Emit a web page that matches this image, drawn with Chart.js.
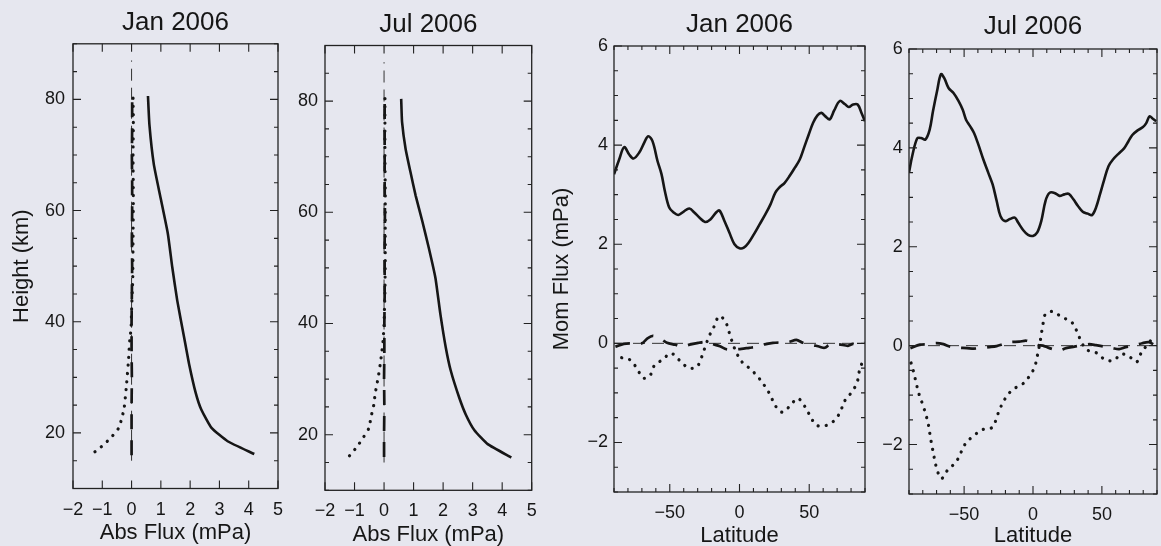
<!DOCTYPE html>
<html lang="en">
<head>
<meta charset="UTF-8">
<title>Gravity Wave Flux 2006</title>
<script src="https://cdn.jsdelivr.net/npm/chart.js"></script>
<style>
  html, body { margin: 0; padding: 0; background: #e6e7ef; }
  #wrap { position: relative; width: 1161px; height: 546px; overflow: hidden; }
  canvas { position: absolute; top: 0; }
</style>
</head>
<body>
<div id="wrap">
  <canvas id="p1" width="300" height="546" style="left:0px"></canvas>
  <canvas id="p2" width="270" height="546" style="left:290px"></canvas>
  <canvas id="p3" width="350" height="546" style="left:530px"></canvas>
  <canvas id="p4" width="291" height="546" style="left:870px"></canvas>
</div>
<script>
// ---- tick labels
const absTicks = [-2, -1, 0, 1, 2, 3, 4, 5];
const heightTicks = [20, 40, 60, 80];
const latTicks = [-50, 0, 50];
const momTicks = [-2, 0, 2, 4, 6];

// ---- Jan 2006, absolute flux profile (height km vs mPa)
const janAbsSolidH = [80.6, 75.4, 68.3, 62.3, 55.8, 49.8, 43.8, 37.3, 32.5, 27.2, 24.2, 20.9, 18.5, 16.2];
const janAbsSolid  = [0.56, 0.61, 0.76, 0.99, 1.24, 1.39, 1.56, 1.79, 1.96, 2.19, 2.38, 2.73, 3.28, 4.19];
const janAbsDotH = [16.6, 17.8, 19.3, 20.8, 22.5, 24.6, 28.8, 32.7, 36.8, 38.6, 42.0, 48, 55, 62, 70, 76, 80.5];
const janAbsDot  = [-1.25, -0.97, -0.68, -0.45, -0.34, -0.25, -0.17, -0.11, -0.06, -0.02, 0.0, 0.04, 0.05, 0.06, 0.05, 0.06, 0.05];
const janAbsDashH = [16, 20, 25, 30, 35, 40, 45, 50, 55, 60, 65, 70, 75, 80.5];
const janAbsDash  = [0.0, 0.0, 0.0, 0.01, 0.0, 0.0, 0.01, 0.02, 0.01, 0.02, 0.02, 0.01, 0.02, 0.02];

// ---- Jul 2006, absolute flux profile
const julAbsSolidH = [80.4, 76.2, 71.4, 67.1, 63.0, 58.3, 53.5, 48.2, 41.6, 35.7, 31.5, 26.6, 23.6, 20.8, 18.3, 15.9];
const julAbsSolid  = [0.58, 0.61, 0.73, 0.90, 1.07, 1.30, 1.52, 1.74, 1.91, 2.09, 2.26, 2.55, 2.77, 3.06, 3.51, 4.31];
const julAbsDotH = [16.2, 17.8, 19.6, 21.1, 23.2, 25.3, 27.4, 29.1, 30.9, 33.0, 35.1, 37.1, 40, 46, 52, 58, 64, 70, 76, 80.5];
const julAbsDot  = [-1.17, -0.92, -0.69, -0.52, -0.44, -0.35, -0.30, -0.24, -0.18, -0.12, -0.07, -0.03, 0.0, 0.03, 0.04, 0.04, 0.04, 0.03, 0.03, 0.03];
const julAbsDashH = [16, 20, 25, 30, 35, 40, 45, 50, 55, 60, 65, 70, 75, 80.5];
const julAbsDash  = [0.0, 0.0, 0.01, 0.0, 0.01, 0.01, 0.02, 0.02, 0.02, 0.03, 0.02, 0.02, 0.02, 0.02];

// ---- Jan 2006, momentum flux vs latitude
const janLatSolid = [-90, -86.3, -82.7, -79.1, -76, -71.9, -68.3, -65.5, -62.4, -58.8, -55.9, -53.5, -50.4, -47.2, -43.9, -40, -36, -32.4, -28.8, -24.7,
  -20.9, -16.8, -14.4, -10.8, -7.2, -3.6, 0, 3.1, 6.5, 10.3, 14.4, 18.5, 22.3, 25.7, 28.8, 32.4, 36, 39.6, 43.2, 46.3,
  49.6, 52.8, 55.9, 58.8, 61.6, 64.7, 67.9, 71.9, 75.5, 78.4, 81.5, 84.7, 87.5, 90];
const janMomSolid = [3.41, 3.71, 3.96, 3.81, 3.73, 3.85, 4.05, 4.18, 4.08, 3.68, 3.41, 3.07, 2.74, 2.64, 2.59, 2.66, 2.72, 2.64, 2.54, 2.45,
  2.50, 2.64, 2.68, 2.47, 2.23, 2.0, 1.92, 1.93, 2.03, 2.20, 2.40, 2.60, 2.81, 3.04, 3.15, 3.24, 3.38, 3.54, 3.71, 3.95,
  4.21, 4.45, 4.60, 4.65, 4.58, 4.52, 4.70, 4.89, 4.83, 4.77, 4.82, 4.82, 4.65, 4.48];
const janLatDot = [-84.5, -78.1, -73.3, -69, -64.2, -61.1, -54.7, -49.2, -42.7, -36.8, -30.8, -27.2, -24.6, -21.7, -18.2, -14.6, -10.3, -7.4, -5, -2.2,
  1.9, 7.9, 13.3, 18.1, 22.2, 25.5, 30.5, 36.3, 41.7, 47, 50.6, 55.1, 61.8, 69, 72.8, 75.9, 80.9, 84.5, 86.1, 88.5];
const janMomDot = [-0.29, -0.34, -0.52, -0.70, -0.65, -0.45, -0.32, -0.20, -0.35, -0.49, -0.48, -0.28, -0.07, 0.15, 0.34, 0.55, 0.45, 0.22, 0.01, -0.19,
  -0.38, -0.52, -0.68, -0.86, -1.05, -1.25, -1.39, -1.26, -1.11, -1.28, -1.46, -1.65, -1.66, -1.53, -1.34, -1.14, -0.97, -0.77, -0.54, -0.35];
const janLatDash = [-89, -83, -76, -70, -66, -62, -56, -52, -46, -41.5, -35, -29.6, -23.6, -20, -14, -9.3, -4, 1.4, 7, 13,
  18, 24, 30, 35.5, 40.8, 45.5, 52, 57.5, 61, 64.7, 71, 77.8, 81.4, 85.7, 89.7];
const janMomDash = [-0.07, -0.01, 0.0, 0.0, 0.1, 0.15, 0.08, 0.01, -0.03, -0.07, -0.02, 0.01, 0.03, -0.01, -0.06, -0.12, -0.12, -0.11, -0.09, -0.07,
  -0.02, 0.01, 0.02, 0.03, 0.07, 0.01, -0.03, -0.07, -0.09, -0.03, -0.02, -0.05, -0.01, -0.03, 0.01];

// ---- Jul 2006, momentum flux vs latitude
const julLatSolid = [-90, -87.7, -84.1, -81.3, -78.1, -75, -72.6, -69.7, -66.8, -64.4, -61.3, -57.7, -54.1, -51, -48.6, -45.7, -42.8, -39.7, -36.1, -32.5,
  -29.3, -26.4, -23.6, -20.4, -16.8, -13.2, -10.8, -7.2, -3.6, 0, 3.1, 6, 9.1, 12, 15.6, 19.2, 22.8, 26, 29.3, 32.5,
  36.1, 39.7, 42.8, 45.7, 48.6, 51.7, 54.8, 58.2, 62, 66.1, 69.2, 72.1, 75.7, 79.8, 82.2, 84.6, 87, 89.4];
const julMomSolid = [3.50, 3.83, 4.19, 4.20, 4.17, 4.37, 4.74, 5.14, 5.49, 5.41, 5.21, 5.11, 4.95, 4.77, 4.57, 4.44, 4.30, 4.07, 3.77, 3.50,
  3.26, 2.93, 2.62, 2.52, 2.56, 2.59, 2.49, 2.34, 2.24, 2.22, 2.29, 2.52, 2.93, 3.09, 3.09, 3.03, 3.06, 3.07, 2.96, 2.83,
  2.71, 2.67, 2.64, 2.79, 3.06, 3.36, 3.63, 3.77, 3.88, 3.99, 4.13, 4.26, 4.35, 4.42, 4.50, 4.64, 4.59, 4.54];
const julLatDot = [-88.5, -86.5, -84.6, -82.5, -79.8, -77.4, -75.7, -74.5, -73.1, -71.6, -69.7, -66.6, -61.8, -55.8, -48.8, -43.3, -36.8, -29.3, -26.4, -23.6,
  -19.7, -14.4, -7.7, -2.4, 1.2, 3.1, 4.8, 6, 7.2, 9.1, 14.4, 21.2, 27.6, 31.7, 34.9, 38.9, 46.4, 52.2, 58.4, 64.2,
  70.2, 75.2, 78.8, 84, 87.7];
const julMomDot = [-0.35, -0.55, -0.78, -1.0, -1.21, -1.43, -1.63, -1.85, -2.06, -2.28, -2.5, -2.69, -2.51, -2.35, -1.97, -1.83, -1.70, -1.65, -1.45, -1.25,
  -1.05, -0.88, -0.78, -0.61, -0.43, -0.21, 0.02, 0.22, 0.43, 0.64, 0.69, 0.57, 0.49, 0.30, 0.09, -0.08, -0.15, -0.28, -0.30, -0.17,
  -0.23, -0.33, -0.13, 0.05, 0.19];
const julLatDash = [-89, -82, -76, -70, -65, -60, -54, -48, -43, -38.5, -32, -26.4, -21.6, -16.8, -10, -4.8, 0, 3.6, 7.2, 11,
  15.6, 19.2, 24, 30, 36, 40.9, 45.7, 52, 57.7, 62.5, 67.3, 73, 79.3, 84.1, 88.5];
const julMomDash = [-0.05, 0.02, 0.03, 0.05, 0.03, -0.02, -0.04, -0.05, -0.06, -0.05, -0.03, -0.01, 0.03, 0.07, 0.08, 0.1, 0.05, 0.01, 0.0, -0.04,
  -0.08, -0.1, -0.05, -0.02, 0.01, 0.03, 0.01, -0.02, -0.05, -0.07, -0.03, 0.0, 0.05, 0.07, 0.01];

// zero reference lines
const refHeight = [15, 87];
const refLat = [-90, 90];

const FONT = '"Liberation Sans", Arial, sans-serif';
const ink = '#161616';

function pts(xs, ys) { return xs.map((v, i) => ({ x: v, y: ys[i] })); }
function fmt(v) { return v < 0 ? '\u2212' + Math.abs(v) : String(v); }

function solid(data, t) { return { data, showLine: true, borderColor: ink, borderWidth: 2.6, pointRadius: 0, tension: t }; }
function dotted(data, t) { return { data, showLine: true, borderColor: ink, borderWidth: 3.2, borderDash: [0.1, 8], borderCapStyle: 'round', pointRadius: 0, tension: t }; }
function dashed(data, t) { return { data, showLine: true, borderColor: ink, borderWidth: 2.7, borderDash: [15, 11], pointRadius: 0, tension: t }; }
function ref(data) { return { data, showLine: true, borderColor: '#333', borderWidth: 1, borderDash: [12, 7], pointRadius: 0 }; }

// box round the plot with inward tick marks on all four sides
const framePlugin = {
  id: 'frame',
  afterDatasetsDraw(chart, args, o) {
    const { ctx, chartArea: a, scales: { x, y } } = chart;
    ctx.save();
    ctx.strokeStyle = '#222';
    ctx.lineWidth = 1.3;
    ctx.strokeRect(a.left, a.top, a.right - a.left, a.bottom - a.top);
    ctx.lineWidth = 1.1;
    ctx.beginPath();
    const isMajor = (s, v) => s.ticks.some(t => Math.abs(t.value - v) < 1e-6);
    for (let v = x.min; v <= x.max + 1e-9; v += o.xMinor) {
      const p = x.getPixelForValue(v), L = isMajor(x, v) ? o.major : o.minor;
      ctx.moveTo(p, a.bottom); ctx.lineTo(p, a.bottom - L);
      ctx.moveTo(p, a.top); ctx.lineTo(p, a.top + L);
    }
    for (let v = y.min; v <= y.max + 1e-9; v += o.yMinor) {
      const p = y.getPixelForValue(v), L = isMajor(y, v) ? o.major : o.minor;
      ctx.moveTo(a.left, p); ctx.lineTo(a.left + L, p);
      ctx.moveTo(a.right, p); ctx.lineTo(a.right - L, p);
    }
    ctx.stroke();
    ctx.restore();
  }
};

function makePanel(id, p) {
  new Chart(document.getElementById(id), {
    type: 'scatter',
    data: { datasets: p.datasets },
    options: {
      responsive: false,
      animation: false,
      layout: { padding: { left: 0, right: p.padRight, top: 0, bottom: 0 } },
      plugins: {
        legend: { display: false },
        tooltip: { enabled: false },
        title: {
          display: true, text: p.title, color: ink, fullSize: false,
          font: { family: FONT, size: 26, weight: 'normal', lineHeight: 1.2 },
          padding: { top: p.titleTop, bottom: p.titleBottom }
        },
        frame: p.frame
      },
      scales: {
        x: {
          type: 'linear', min: p.xMin, max: p.xMax,
          afterFit: s => { s.height = p.xHeight; },
          afterBuildTicks: s => { s.ticks = p.xTicks.map(v => ({ value: v })); },
          grid: { display: false, drawTicks: false },
          border: { display: false },
          ticks: { color: ink, padding: p.xPad, maxRotation: 0, autoSkip: false, font: { family: FONT, size: 18 }, callback: fmt },
          title: { display: true, text: p.xTitle, color: ink, font: { family: FONT, size: 22, lineHeight: 0.9 }, padding: { top: 0, bottom: p.xTitleBottom } }
        },
        y: {
          type: 'linear', min: p.yMin, max: p.yMax,
          afterFit: s => { s.width = p.yWidth; },
          afterBuildTicks: s => { s.ticks = p.yTicks.map(v => ({ value: v })); },
          grid: { display: false, drawTicks: false },
          border: { display: false },
          ticks: { color: ink, padding: p.yPad, autoSkip: false, font: { family: FONT, size: 18 }, callback: fmt },
          title: { display: !!p.yTitle, text: p.yTitle || '', color: ink, font: { family: FONT, size: 22, lineHeight: 1.0 }, padding: { top: p.yTitleTop || 0, bottom: 0 } }
        }
      }
    },
    plugins: [framePlugin]
  });
}

makePanel('p1', {
  title: 'Jan 2006', titleTop: 7.6, titleBottom: 5.0,
  xMin: -2, xMax: 5, xTicks: absTicks, xHeight: 57.5, xPad: 11, xTitle: 'Abs Flux (mPa)', xTitleBottom: 3.2,
  yMin: 10, yMax: 90, yTicks: heightTicks, yWidth: 73, yPad: 8, yTitle: 'Height (km)', yTitleTop: 11,
  padRight: 22,
  frame: { xMinor: 1, yMinor: 5, major: 8, minor: 4 },
  datasets: [
    solid(pts(janAbsSolid, janAbsSolidH), 0.15),
    dotted(pts(janAbsDot, janAbsDotH), 0.2),
    dashed(pts(janAbsDash, janAbsDashH), 0),
    ref([{ x: 0, y: refHeight[0] }, { x: 0, y: refHeight[1] }])
  ]
});

makePanel('p2', {
  title: 'Jul 2006', titleTop: 9.4, titleBottom: 4.9,
  xMin: -2, xMax: 5, xTicks: absTicks, xHeight: 55.7, xPad: 10, xTitle: 'Abs Flux (mPa)', xTitleBottom: 1.5,
  yMin: 10, yMax: 90, yTicks: heightTicks, yWidth: 35, yPad: 7,
  padRight: 28.3,
  frame: { xMinor: 1, yMinor: 5, major: 8, minor: 4 },
  datasets: [
    solid(pts(julAbsSolid, julAbsSolidH), 0.15),
    dotted(pts(julAbsDot, julAbsDotH), 0.2),
    dashed(pts(julAbsDash, julAbsDashH), 0),
    ref([{ x: 0, y: refHeight[0] }, { x: 0, y: refHeight[1] }])
  ]
});

makePanel('p3', {
  title: 'Jan 2006', titleTop: 9.4, titleBottom: 5.4,
  xMin: -90, xMax: 90, xTicks: latTicks, xHeight: 54, xPad: 10, xTitle: 'Latitude', xTitleBottom: 0.5,
  yMin: -3, yMax: 6, yTicks: momTicks, yWidth: 84, yPad: 6, yTitle: 'Mom Flux (mPa)', yTitleTop: 20.7,
  padRight: 15,
  frame: { xMinor: 10, yMinor: 0.5, major: 8, minor: 4 },
  datasets: [
    solid(pts(janLatSolid, janMomSolid), 0.35),
    dotted(pts(janLatDot, janMomDot), 0.35),
    dashed(pts(janLatDash, janMomDash), 0.3),
    ref([{ x: refLat[0], y: 0 }, { x: refLat[1], y: 0 }])
  ]
});

makePanel('p4', {
  title: 'Jul 2006', titleTop: 11, titleBottom: 6.8,
  xMin: -90, xMax: 90, xTicks: latTicks, xHeight: 52, xPad: 10, xTitle: 'Latitude', xTitleBottom: 0,
  yMin: -3, yMax: 6, yTicks: momTicks, yWidth: 39, yPad: 6.3,
  padRight: 4,
  frame: { xMinor: 10, yMinor: 0.5, major: 8, minor: 4 },
  datasets: [
    solid(pts(julLatSolid, julMomSolid), 0.35),
    dotted(pts(julLatDot, julMomDot), 0.35),
    dashed(pts(julLatDash, julMomDash), 0.3),
    ref([{ x: refLat[0], y: 0 }, { x: refLat[1], y: 0 }])
  ]
});
</script>
</body>
</html>
